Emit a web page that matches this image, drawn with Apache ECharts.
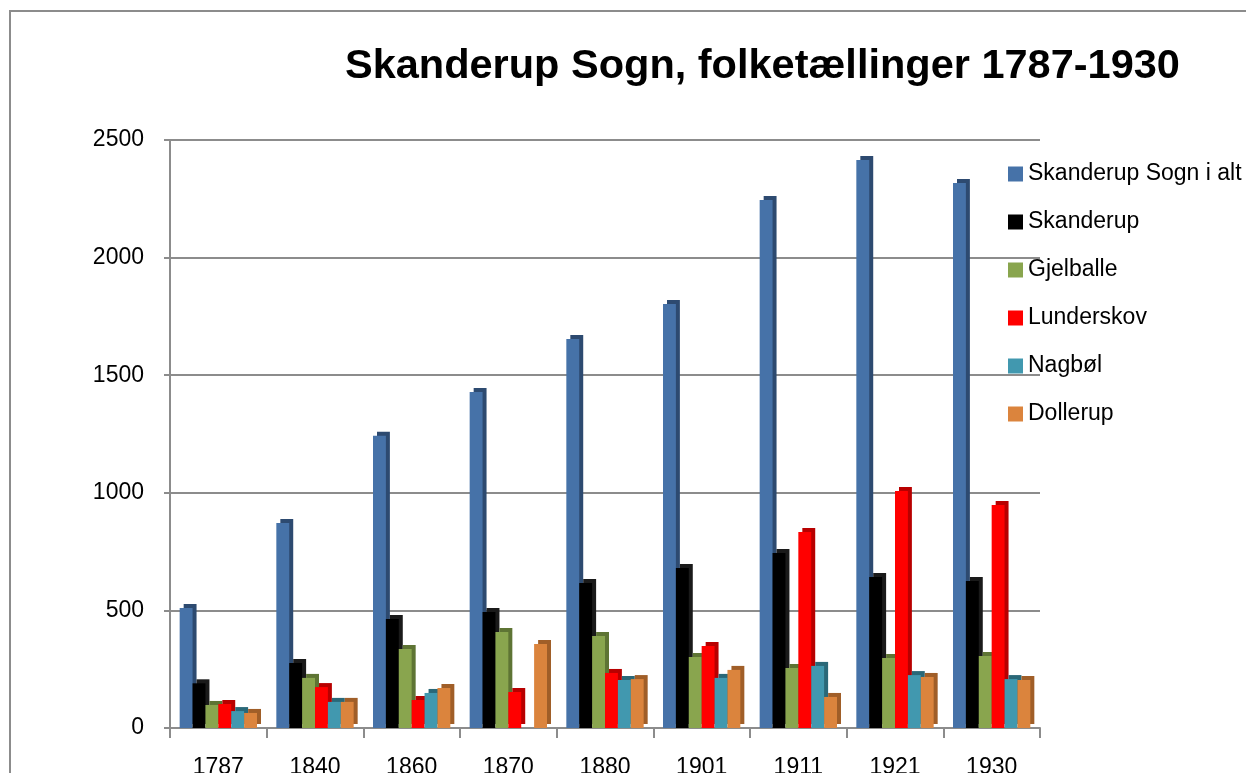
<!DOCTYPE html>
<html>
<head>
<meta charset="utf-8">
<script src="https://cdn.jsdelivr.net/npm/echarts@6/dist/echarts.min.js"></script>
<style>
html, body { margin: 0; padding: 0; background: #fff; }
#main { width: 1246px; height: 773px; }
</style>
</head>
<body>
<div id="main"></div>
<script>
var years = ['1787', '1840', '1860', '1870', '1880', '1901', '1911', '1921', '1930'];
var sognIAlt   = [510, 872, 1243, 1429, 1654, 1803, 2245, 2415, 2317];
var skanderup  = [190, 276, 463, 493, 616, 680, 744, 642, 625];
var gjelballe  = [98, 213, 336, 408, 391, 302, 255, 298, 306];
var lunderskov = [102, 174, 119, 153, 234, 349, 833, 1008, 948];
var nagbol     = [72, 111, 149, 0, 204, 213, 264, 225, 208];
var dollerup   = [64, 111, 170, 357, 208, 247, 132, 217, 204];
var yTicks = [0, 500, 1000, 1500, 2000, 2500];

var fontFam = '"Liberation Sans", Arial, sans-serif';

function mkBar(name, data, color, side) {
    return {
        name: name,
        type: 'bar',
        data: data,
        barGap: '0%',
        barCategoryGap: '20%',
        itemStyle: {
            color: color,
            shadowColor: side,
            shadowBlur: 0,
            shadowOffsetX: 4,
            shadowOffsetY: -4
        }
    };
}

var myChart = echarts.init(document.getElementById('main'));
var option = {
    backgroundColor: '#fff',
    animation: false,
    textStyle: { fontFamily: fontFam },
    title: {
        text: 'Skanderup Sogn, folketællinger 1787-1930',
        left: 340,
        top: 41,
        textStyle: { fontFamily: fontFam, fontSize: 41.5, fontWeight: 'bold', color: '#000' }
    },
    graphic: [{
        type: 'polyline',
        shape: { points: [[10, 780], [10, 11], [1260, 11]] },
        style: { stroke: '#8c8c8c', lineWidth: 2, fill: null }
    }],
    legend: {
        orient: 'vertical',
        left: 1003,
        top: 157,
        itemWidth: 15,
        itemHeight: 15,
        itemGap: 24,
        icon: 'rect',
        textStyle: { fontFamily: fontFam, fontSize: 23, color: '#000', lineHeight: 24 },
        data: ['Skanderup Sogn i alt', 'Skanderup', 'Gjelballe', 'Lunderskov', 'Nagbøl', 'Dollerup']
    },
    grid: { left: 170, right: 206, top: 140, bottom: 45, outerBoundsMode: 'none', containLabel: false },
    xAxis: {
        type: 'category',
        data: years,
        axisLine: { show: true, lineStyle: { color: '#8c8c8c', width: 2 } },
        axisTick: { show: true, length: 10, lineStyle: { color: '#8c8c8c', width: 2 } },
        axisLabel: { fontFamily: fontFam, fontSize: 23, color: '#000', margin: 28 }
    },
    yAxis: {
        type: 'value',
        min: yTicks[0],
        max: yTicks[yTicks.length - 1],
        interval: 500,
        axisLine: { show: true, lineStyle: { color: '#8c8c8c', width: 2 } },
        axisTick: { show: true, length: 6, lineStyle: { color: '#8c8c8c', width: 2 } },
        axisLabel: {
            fontFamily: fontFam, fontSize: 23, color: '#000', margin: 26,
            formatter: function (v) { return String(v); }
        },
        splitLine: { show: true, lineStyle: { color: '#8c8c8c', width: 2 } }
    },
    series: [
        mkBar('Skanderup Sogn i alt', sognIAlt, '#4672a8', '#2d4a70'),
        mkBar('Skanderup', skanderup, '#000000', '#1a1a1a'),
        mkBar('Gjelballe', gjelballe, '#89a54e', '#5e7434'),
        mkBar('Lunderskov', lunderskov, '#ff0000', '#b80000'),
        mkBar('Nagbøl', nagbol, '#4198af', '#2a6878'),
        mkBar('Dollerup', dollerup, '#db843d', '#a05e28')
    ]
};
myChart.setOption(option);
</script>
</body>
</html>
